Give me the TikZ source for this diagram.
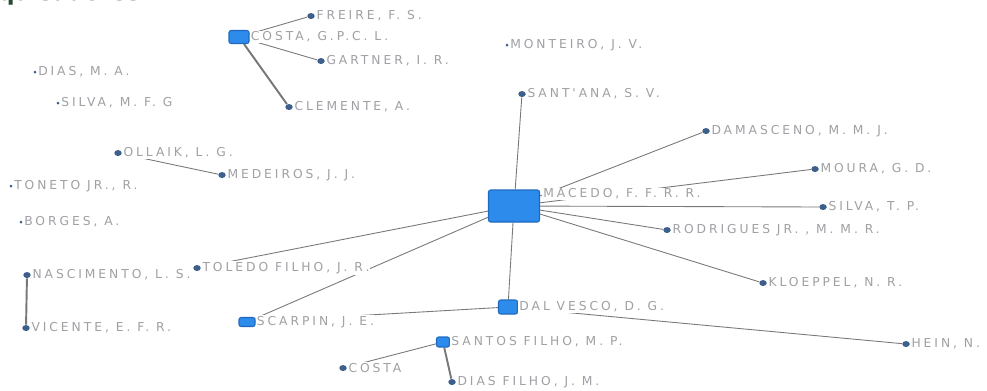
\documentclass[tikz,border=0pt]{standalone}
\usepackage{fontspec}
\setmainfont{DejaVu Sans}
\newfontfamily\tagfont[LetterSpace=24]{DejaVu Sans}
\usetikzlibrary{positioning,backgrounds,shapes.geometric}
\definecolor{hubblue}{RGB}{45,140,235}
\definecolor{hubline}{RGB}{30,105,190}
\definecolor{dotblue}{RGB}{60,95,140}
\definecolor{edgegray}{RGB}{120,120,120}
\definecolor{labelgray}{RGB}{160,160,165}
\definecolor{titlegreen}{RGB}{40,75,50}

\begin{document}
\begin{tikzpicture}[
x=0.02cm,y=-0.02cm,
hub/.style={rectangle,rounded corners=1.2pt,draw=hubline,fill=hubblue,line width=0.6pt,inner sep=0pt},
pt/.style={ellipse,fill=dotblue,minimum width=0.15cm,minimum height=0.12cm,inner sep=0pt},
lone/.style={circle,fill=dotblue,minimum size=0.06cm,inner sep=0pt},
tag/.style={anchor=west,fill=white,inner sep=0.6pt,text=labelgray,font=\tagfont\fontsize{7}{8}\selectfont},
edge/.style={draw=edgegray,line width=0.5pt},
heavy/.style={draw=edgegray,line width=1.1pt}
]
\useasboundingbox (0,0) rectangle (987,390);
\node[anchor=base west,inner sep=0pt,text=titlegreen,font=\bfseries\fontsize{13}{14}\selectfont] (title) at (-2,0) {quisadores};

% hubs
\node[hub,minimum width=0.40cm,minimum height=0.26cm] (costag) at (239,37) {};
\node[hub,minimum width=1.02cm,minimum height=0.64cm] (macedo) at (514,206) {};
\node[hub,minimum width=0.38cm,minimum height=0.28cm] (dalvesco) at (508,307) {};
\node[hub,minimum width=0.26cm,minimum height=0.20cm] (santos) at (443,342) {};
\node[hub,minimum width=0.32cm,minimum height=0.18cm] (scarpin) at (247,322) {};

% authors with links
\node[pt] (freire) at (311,16) {};
\node[pt] (gartner) at (321,61) {};
\node[pt] (clemente) at (289,107) {};
\node[pt] (santana) at (522,94) {};
\node[pt] (ollaik) at (118,153) {};
\node[pt] (medeiros) at (222,175) {};
\node[pt] (damasceno) at (706,131) {};
\node[pt] (moura) at (815,169) {};
\node[pt] (silvatp) at (823,207) {};
\node[pt] (rodrigues) at (667,230) {};
\node[pt] (kloeppel) at (763,283) {};
\node[pt] (toledo) at (197,268) {};
\node[pt] (nascimento) at (27,275) {};
\node[pt] (vicente) at (26,328) {};
\node[pt] (hein) at (906,344) {};
\node[pt] (costa) at (343,368) {};
\node[pt] (diasfilho) at (452,382) {};

% authors without links
\node[lone] (diasma) at (35,72) {};
\node[lone] (silvamfg) at (58,103) {};
\node[lone] (monteiro) at (507,45) {};
\node[lone] (toneto) at (11,186) {};
\node[lone] (borges) at (21,222) {};

% labels
\node[tag,right=0pt of costag] (costagL) {COSTA, G.P.C. L.};
\node[tag] (macedoL) at (542,194) {MACEDO, F. F. R. R.};
\node[tag,right=0pt of dalvesco] (dalvescoL) {DAL VESCO, D. G.};
\node[tag,right=0pt of santos] (santosL) {SANTOS FILHO, M. P.};
\node[tag,right=0pt of scarpin] (scarpinL) {SCARPIN, J. E.};
\node[tag,right=0pt of freire] (freireL) {FREIRE, F. S.};
\node[tag,right=0pt of gartner] (gartnerL) {GARTNER, I. R.};
\node[tag,right=0pt of clemente] (clementeL) {CLEMENTE, A.};
\node[tag,right=0pt of santana] (santanaL) {SANT'ANA, S. V.};
\node[tag,right=0pt of ollaik] (ollaikL) {OLLAIK, L. G.};
\node[tag,right=0pt of medeiros] (medeirosL) {MEDEIROS, J. J.};
\node[tag,right=0pt of damasceno] (damascenoL) {DAMASCENO, M. M. J.};
\node[tag,right=0pt of moura] (mouraL) {MOURA, G. D.};
\node[tag,right=0pt of silvatp] (silvatpL) {SILVA, T. P.};
\node[tag,right=0pt of rodrigues] (rodriguesL) {RODRIGUES JR. , M. M. R.};
\node[tag,right=0pt of kloeppel] (kloeppelL) {KLOEPPEL, N. R.};
\node[tag,right=0pt of toledo] (toledoL) {TOLEDO FILHO, J. R.};
\node[tag,right=0pt of nascimento] (nascimentoL) {NASCIMENTO, L. S.};
\node[tag,right=0pt of vicente] (vicenteL) {VICENTE, E. F. R.};
\node[tag,right=0pt of hein] (heinL) {HEIN, N.};
\node[tag,right=0pt of costa] (costaL) {COSTA};
\node[tag,right=0pt of diasfilho] (diasfilhoL) {DIAS FILHO, J. M.};
\node[tag,right=0pt of diasma] (diasmaL) {DIAS, M. A.};
\node[tag,right=0pt of silvamfg] (silvamfgL) {SILVA, M. F. G};
\node[tag,right=0pt of monteiro] (monteiroL) {MONTEIRO, J. V.};
\node[tag,right=0pt of toneto] (tonetoL) {TONETO JR., R.};
\node[tag,right=0pt of borges] (borgesL) {BORGES, A.};

% co-authorship links
\begin{pgfonlayer}{background}
\draw[edge] (costag) -- (freire);
\draw[edge] (costag) -- (gartner);
\draw[heavy] (costag) -- (clemente);
\draw[edge] (ollaik) -- (medeiros);
\foreach \x in {santana,damasceno,moura,silvatp,rodrigues,kloeppel,toledo,scarpin,dalvesco}
  \draw[edge] (macedo) -- (\x);
\draw[edge] (dalvesco) -- (scarpin);
\draw[edge] (dalvesco) -- (hein);
\draw[edge] (santos) -- (costa);
\draw[heavy] (santos) -- (diasfilho);
\draw[heavy] (nascimento) -- (vicente);
\end{pgfonlayer}
\end{tikzpicture}
\end{document}
